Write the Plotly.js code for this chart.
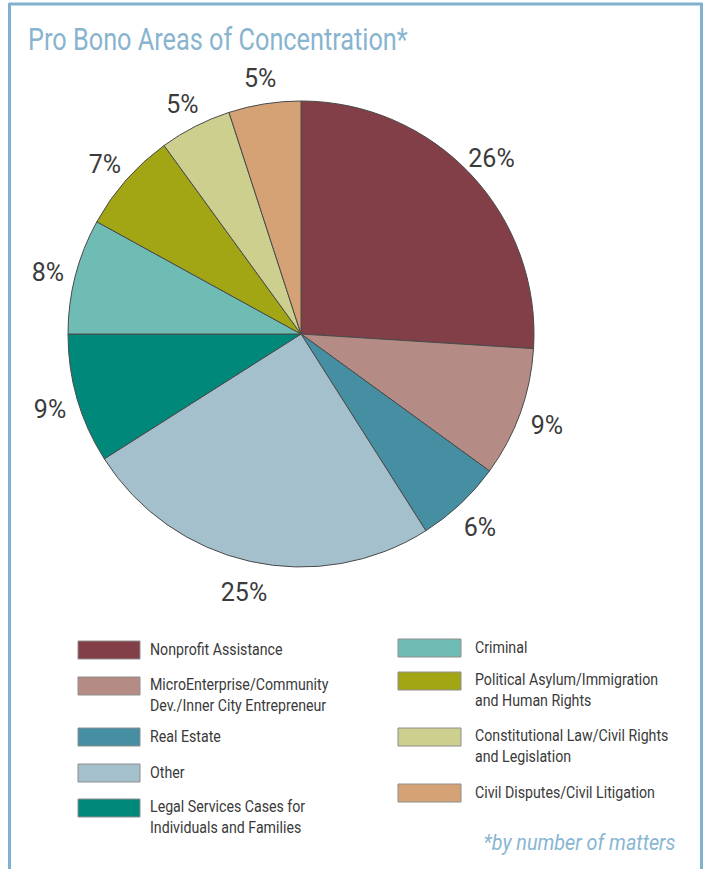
<!DOCTYPE html>
<html>
<head>
<meta charset="utf-8">
<script src="https://cdn.plot.ly/plotly-3.0.1.min.js"></script>
<style>html,body{margin:0;padding:0;background:#fff;}#chart{width:705px;height:869px;}</style>
</head>
<body>
<div id="chart"></div>
<script>
// ---- data ----
const categories = [
  "Nonprofit Assistance",
  "MicroEnterprise/Community Dev./Inner City Entrepreneur",
  "Real Estate",
  "Other",
  "Legal Services Cases for Individuals and Families",
  "Criminal",
  "Political Asylum/Immigration and Human Rights",
  "Constitutional Law/Civil Rights and Legislation",
  "Civil Disputes/Civil Litigation"
];
const legendLabels = [
  "Nonprofit Assistance",
  "MicroEnterprise/Community<br>Dev./Inner City Entrepreneur",
  "Real Estate",
  "Other",
  "Legal Services Cases for<br>Individuals and Families",
  "Criminal",
  "Political Asylum/Immigration<br>and Human Rights",
  "Constitutional Law/Civil Rights<br>and Legislation",
  "Civil Disputes/Civil Litigation"
];
const values = [26, 9, 6, 25, 9, 8, 7, 5, 5];
const colors = ["#823f48", "#b58b86", "#468ea1", "#a4c0cc", "#00897a",
                "#6fbcb4", "#a3a614", "#cccf8d", "#d5a276"];
const titleText = "Pro Bono Areas of Concentration*";
const footnote = "*by number of matters";

// ---- layout helpers (pixel -> paper) ----
const W = 705, H = 869;
const px = x => x / W;
const py = y => 1 - y / H;

const cx = 301, cy = 334, R = 233;      // pie
const RL = 292, holeL = 0.79;           // label ring
const ringCy = 337;

const labelFont = {family: "Roboto, 'Liberation Sans', sans-serif", size: 25, color: "#3b3b3b"};
const txtFam = "Roboto, 'DejaVu Sans Condensed', sans-serif";

const pie = {
  type: "pie",
  labels: categories,
  values: values,
  sort: false,
  direction: "clockwise",
  rotation: 0,
  textinfo: "none",
  hoverinfo: "label+percent",
  marker: {colors: colors, line: {color: "#4a4a4a", width: 1}},
  domain: {x: [px(cx - R), px(cx + R)], y: [py(cy + R), py(cy - R)]},
  showlegend: false
};

const ring = {
  type: "pie",
  labels: categories,
  values: values,
  sort: false,
  direction: "clockwise",
  rotation: 0,
  hole: holeL,
  text: values.map(v => v + "%"),
  textinfo: "text",
  textposition: "inside",
  insidetextorientation: "horizontal",
  insidetextfont: labelFont,
  hoverinfo: "skip",
  marker: {colors: values.map(() => "rgba(0,0,0,0)"), line: {width: 0}},
  domain: {x: [px(cx - RL), px(cx + RL)], y: [py(ringCy + RL), py(ringCy - RL)]},
  showlegend: false
};

// ---- custom two-column legend ----
const shapes = [];
const annotations = [];
const squeeze = [];   // [annotation index, scaleX, origin]
const cols = [
  {idx: [0, 1, 2, 3, 4], sx: 78, sw: 62, tx: 148, tops: [641, 677, 728, 764, 799]},
  {idx: [5, 6, 7, 8], sx: 398, sw: 63, tx: 473, tops: [639, 672, 728, 784]}
];
const legFont = 16.5, lineH = 20.5;
cols.forEach(c => {
  c.idx.forEach((k, j) => {
    const top = c.tops[j];
    shapes.push({type: "rect", xref: "paper", yref: "paper",
      x0: px(c.sx), x1: px(c.sx + c.sw), y0: py(top + 18), y1: py(top),
      fillcolor: colors[k], line: {color: "#8e8e8e", width: 1}});
    const lines = legendLabels[k].split("<br>").length;
    squeeze.push([annotations.length, 0.86, "0% 50%"]);
    annotations.push({xref: "paper", yref: "paper", x: px(c.tx), y: py(top + 8 + (lines - 1) * lineH / 2),
      xanchor: "left", yanchor: "middle", align: "left", showarrow: false,
      text: legendLabels[k], font: {family: txtFam, size: legFont, color: "#3a3a3a"}});
  });
});

// title & footnote
squeeze.push([annotations.length, 0.79, "0% 50%"]);
annotations.push({xref: "paper", yref: "paper", x: px(26), y: py(39), xanchor: "left", yanchor: "middle",
  showarrow: false, text: titleText, font: {family: txtFam, size: 32, color: "#88b4d0"}});
squeeze.push([annotations.length, 0.9, "100% 50%"]);
annotations.push({xref: "paper", yref: "paper", x: px(678), y: py(842), xanchor: "right", yanchor: "middle",
  showarrow: false, text: "<i>" + footnote + "</i>", font: {family: txtFam, size: 22, color: "#88b6d3"}});

// frame
const frameColor = "#80b2d0";
shapes.push({type: "line", xref: "paper", yref: "paper", x0: px(9), x1: px(702), y0: py(4), y1: py(4), line: {color: frameColor, width: 3}});
shapes.push({type: "line", xref: "paper", yref: "paper", x0: px(9.5), x1: px(9.5), y0: py(3), y1: py(875), line: {color: frameColor, width: 3}});
shapes.push({type: "line", xref: "paper", yref: "paper", x0: px(701.5), x1: px(701.5), y0: py(3), y1: py(875), line: {color: frameColor, width: 3}});

const layout = {
  width: W, height: H,
  margin: {l: 0, r: 0, t: 0, b: 0},
  paper_bgcolor: "#ffffff",
  showlegend: false,
  shapes: shapes,
  annotations: annotations
};

Plotly.newPlot("chart", [pie, ring], layout, {displayModeBar: false, staticPlot: true}).then(gd => {
  const groups = gd.querySelectorAll("g.annotation");
  squeeze.forEach(([i, s, origin]) => {
    const g = Array.from(groups).find(el => el.getAttribute("data-index") == String(i));
    if (!g) return;
    const t = g.querySelector("text.annotation-text");
    if (!t) return;
    t.style.transformBox = "fill-box";
    t.style.transformOrigin = origin;
    t.style.transform = "scaleX(" + s + ")";
  });
});
</script>
</body>
</html>
